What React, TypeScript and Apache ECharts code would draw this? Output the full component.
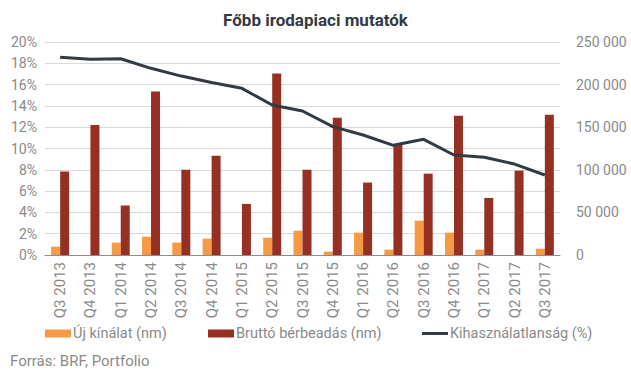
import React, { useEffect, useRef } from "react";
import * as echarts from "echarts";

const categories = [
  "Q3 2013", "Q4 2013", "Q1 2014", "Q2 2014", "Q3 2014", "Q4 2014",
  "Q1 2015", "Q2 2015", "Q3 2015", "Q4 2015", "Q1 2016", "Q2 2016",
  "Q3 2016", "Q4 2016", "Q1 2017", "Q2 2017", "Q3 2017",
];
const ujKinalat = [
  9800, 0, 14500, 21500, 14500, 19200, 0, 20300, 28500, 3900, 26200, 6300,
  40300, 26200, 6300, 0, 7400,
];
const bruttoBerbeadas = [
  98000, 152500, 58000, 192000, 100000, 116500, 60000, 213000, 100000, 161000,
  85000, 130000, 95500, 163500, 67000, 99000, 164500,
];
const kihasznalatlansag = [
  18.56, 18.37, 18.43, 17.53, 16.8, 16.2, 15.65, 14.08, 13.52, 12.05, 11.27,
  10.3, 10.86, 9.39, 9.17, 8.54, 7.51,
];
const leftTicks = [0, 2, 4, 6, 8, 10, 12, 14, 16, 18, 20];
const rightTicks = [0, 50000, 100000, 150000, 200000, 250000];

const FONT = "Roboto, 'Noto Sans', sans-serif";
const GREY = "#8a8a8a";
const ORANGE = "#f79a46";
const RED = "#963022";
const DARK = "#333a44";

const legendBase = {
  top: 326,
  padding: 0,
  itemWidth: 26,
  itemHeight: 8,
  textStyle: { fontFamily: FONT, fontSize: 14.5, color: GREY, padding: [0, 0, 0, -3] },
};

export default function App() {
  const ref = useRef<HTMLDivElement>(null);
  useEffect(() => {
    if (!ref.current) return;
    const chart = echarts.init(ref.current, undefined, { renderer: "svg" });
    chart.setOption({
      animation: false,
      textStyle: { fontFamily: FONT },
      title: {
        text: "Főbb irodapiaci mutatók",
        left: "center",
        top: 6,
        textStyle: { fontFamily: FONT, fontWeight: "bold", fontSize: 17, color: DARK },
      },
      graphic: [
        {
          type: "text",
          left: 10,
          top: 353,
          style: { text: "Forrás: BRF, Portfolio", fill: GREY, font: `15px ${FONT}` },
        },
      ],
      legend: [
        { ...legendBase, left: 45, data: [{ name: "Új kínálat (nm)", icon: "rect" }] },
        { ...legendBase, left: 208, data: [{ name: "Bruttó bérbeadás (nm)", icon: "rect" }] },
        {
          ...legendBase,
          left: 422,
          data: [{ name: "Kihasználatlanság (%)", icon: "path://M0,0H26V3H0Z" }],
          itemHeight: 3,
        },
      ],
      grid: { left: 45, right: 71, top: 42, bottom: 115, containLabel: false },
      xAxis: {
        type: "category",
        data: categories,
        axisLine: { lineStyle: { color: "#8c8c8c", width: 1 } },
        axisTick: { show: false },
        axisLabel: { rotate: 90, color: GREY, fontSize: 15, fontFamily: FONT, margin: 7, interval: 0 },
      },
      yAxis: [
        {
          type: "value",
          min: 0,
          max: 20,
          interval: 2,
          axisLine: { show: false },
          axisTick: { show: false },
          splitLine: { lineStyle: { color: "#d9d9d9", width: 1 } },
          axisLabel: {
            color: GREY,
            fontSize: 14,
            fontFamily: FONT,
            margin: 8,
            formatter: (v: number) => (leftTicks.includes(v) ? `${v}%` : ""),
          },
        },
        {
          type: "value",
          min: 0,
          max: 250000,
          interval: 50000,
          axisLine: { show: false },
          axisTick: { show: false },
          splitLine: { show: false },
          axisLabel: {
            color: GREY,
            fontSize: 14,
            fontFamily: FONT,
            margin: 16,
            formatter: (v: number) =>
              rightTicks.includes(v) ? (v === 0 ? "0" : String(v).replace(/\B(?=(\d{3})+(?!\d))/g, " ")) : "",
          },
        },
      ],
      series: [
        {
          name: "Új kínálat (nm)",
          type: "bar",
          yAxisIndex: 1,
          data: ujKinalat,
          barWidth: 9,
          barGap: "0%",
          itemStyle: { color: ORANGE },
        },
        {
          name: "Bruttó bérbeadás (nm)",
          type: "bar",
          yAxisIndex: 1,
          data: bruttoBerbeadas,
          barWidth: 9,
          barGap: "0%",
          itemStyle: { color: RED },
        },
        {
          name: "Kihasználatlanság (%)",
          type: "line",
          yAxisIndex: 0,
          data: kihasznalatlansag,
          symbol: "none",
          lineStyle: { color: DARK, width: 3 },
          itemStyle: { color: DARK },
        },
      ],
    });
    return () => chart.dispose();
  }, []);
  return <div ref={ref} style={{ width: 631, height: 370, position: "absolute", left: 0, top: 0 }} />;
}
